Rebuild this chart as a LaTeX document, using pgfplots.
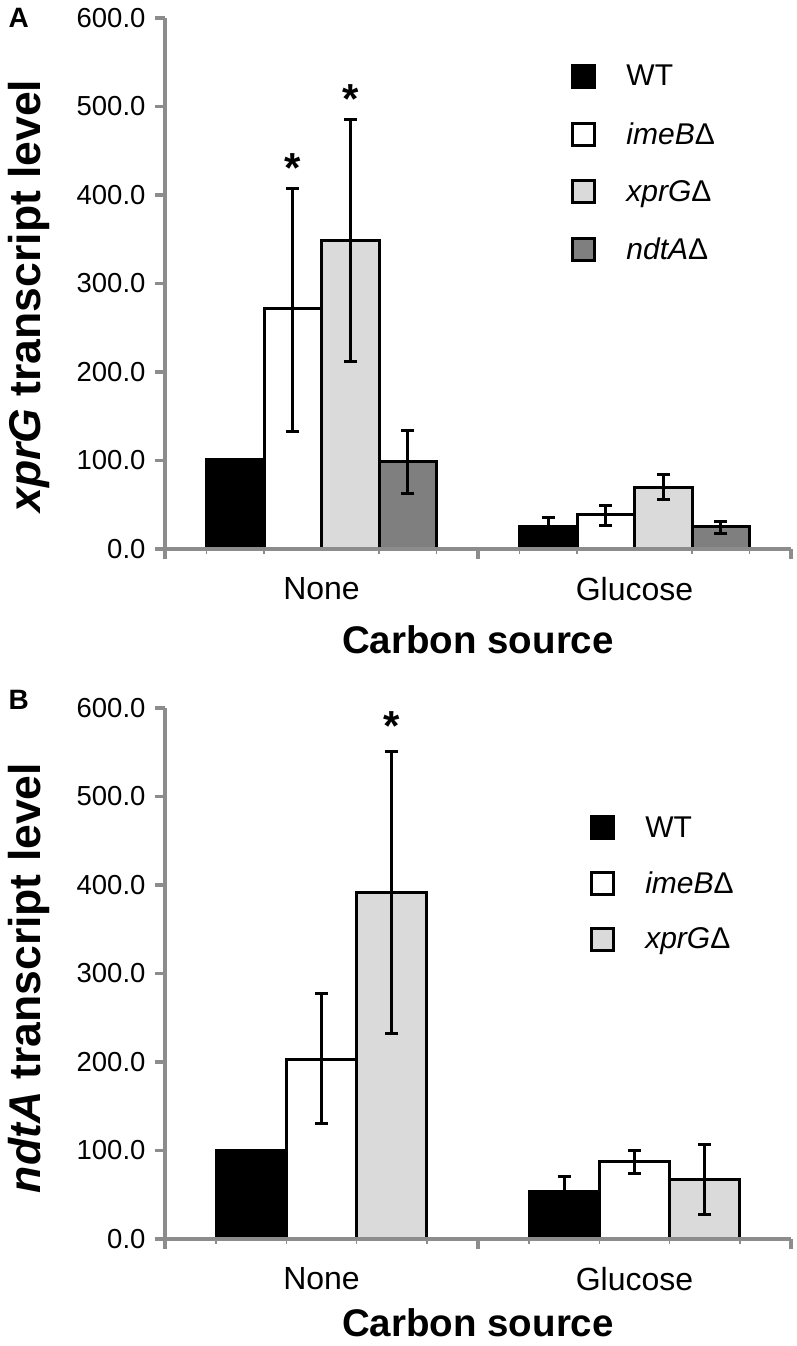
\documentclass[border=0pt]{standalone}
\usepackage{fontspec}
\setmainfont{Liberation Sans}
\usepackage{pgfplots}
\pgfplotsset{compat=1.18}
\usepackage{pgfplotstable}

\definecolor{axgray}{HTML}{8C8C8C}
\definecolor{lgray}{HTML}{DADADA}
\definecolor{dgray}{HTML}{7F7F7F}

% Panel A data: x y ep em
\pgfplotstableread{
x y ep em
1 101 0 0
2 25.5 10 10
}\AWT
\pgfplotstableread{
x y ep em
1 272 135 139
2 38.8 10.8 12
}\AimeB
\pgfplotstableread{
x y ep em
1 349 136 137
2 70 14 14
}\AxprG
\pgfplotstableread{
x y ep em
1 98.5 35.5 36
2 25 6 8
}\AndtA
% Panel B data
\pgfplotstableread{
x y ep em
1 100 0 0
2 53.5 17.3 17.3
}\BWT
\pgfplotstableread{
x y ep em
1 203 74 73
2 87.5 12 14
}\BimeB
\pgfplotstableread{
x y ep em
1 391 160 159
2 67.5 39 39.5
}\BxprG

\pgfplotsset{
  panel/.style={
    scale only axis,
    width=626pt, height=531pt,
    xmin=0.5, xmax=2.5, ymin=0, ymax=600,
    axis x line*=bottom, axis y line*=left,
    axis line style={axgray, line width=3.2pt},
    tick style={axgray, line width=3.2pt},
    tick align=outside,
    major tick length=10pt,
    minor tick length=5pt,
    minor tick style={axgray, line width=1.5pt},
    ytick={0,100,...,600},
    yticklabel style={font=\fontsize{27.5}{32}\selectfont, xshift=-6pt,
      /pgf/number format/.cd, fixed, fixed zerofill, precision=1, assume math mode=true},
    xtick={0.5,1.5,2.5}, xticklabels={},
    extra x ticks={1,2},
    extra x tick labels={None,Glucose},
    extra x tick style={major tick length=0pt, xticklabel style={font=\fontsize{32}{38}\selectfont, yshift=-25pt}},
    axis on top,
    clip=false,
    ybar=0pt,
    error bars/y dir=both,
    error bars/y explicit,
    error bars/error mark=-,
    error bars/error bar style={line width=3pt, black},
    error bars/error mark options={rotate=90, line width=3pt, black, mark size=6.5pt},
    legend image code/.code={\draw[#1, line width=3pt] (0pt,-11pt) rectangle (22pt,11pt);},
    legend cell align=left,
  },
  barst/.style={draw=black, line width=3pt},
}

\begin{document}
\begin{tikzpicture}
\path[use as bounding box] (-165pt,549pt) rectangle (632pt,-797pt);

% ---------------- Panel A
\begin{axis}[panel, at={(0pt,0pt)}, anchor=south west,
  bar width=57.5pt,
  minor xtick={0.632,0.816,1.184,1.368,1.632,1.816,2.184,2.368},
  legend style={draw=none, fill=none, inner sep=0pt,
    at={(axis description cs:0.649,0.915)}, anchor=north west,
    font=\fontsize{30}{36}\selectfont, row sep=31pt,
    /tikz/every odd column/.append style={column sep=28pt}},
]
\addplot[barst, fill=black] table[x=x, y=y, y error plus=ep, y error minus=em] {\AWT};
\addplot[barst, fill=white] table[x=x, y=y, y error plus=ep, y error minus=em] {\AimeB};
\addplot[barst, fill=lgray] table[x=x, y=y, y error plus=ep, y error minus=em] {\AxprG};
\addplot[barst, fill=dgray] table[x=x, y=y, y error plus=ep, y error minus=em] {\AndtA};
\legend{WT, \textit{imeB}Δ, \textit{xprG}Δ, \textit{ndtA}Δ}
\node[font=\fontsize{42}{42}\selectfont\bfseries] at (axis cs:0.908,430) {*};
\node[font=\fontsize{42}{42}\selectfont\bfseries] at (axis cs:1.092,508) {*};
\end{axis}
\node[font=\fontsize{44.5}{52}\selectfont\bfseries, rotate=90] at (-136pt,253pt) {\textit{xprG} transcript level};
\node[font=\fontsize{38.5}{46}\selectfont\bfseries] at (313pt,-91pt) {Carbon source};
\node[font=\fontsize{28}{34}\selectfont\bfseries, anchor=west] at (-160pt,531pt) {A};

% ---------------- Panel B
\begin{axis}[panel, at={(0pt,-690pt)}, anchor=south west,
  bar width=70.3pt,
  minor xtick={0.663,0.888,1.112,1.337,1.663,1.888,2.112,2.337},
  legend style={draw=none, fill=none, inner sep=0pt,
    at={(axis description cs:0.679,0.80)}, anchor=north west,
    font=\fontsize{30}{36}\selectfont, row sep=29pt,
    /tikz/every odd column/.append style={column sep=28pt}},
]
\addplot[barst, fill=black] table[x=x, y=y, y error plus=ep, y error minus=em] {\BWT};
\addplot[barst, fill=white] table[x=x, y=y, y error plus=ep, y error minus=em] {\BimeB};
\addplot[barst, fill=lgray] table[x=x, y=y, y error plus=ep, y error minus=em] {\BxprG};
\legend{WT, \textit{imeB}Δ, \textit{xprG}Δ}
\node[font=\fontsize{42}{42}\selectfont\bfseries] at (axis cs:1.2246,580) {*};
\end{axis}
\node[font=\fontsize{44.5}{52}\selectfont\bfseries, rotate=90] at (-136pt,-429pt) {\textit{ndtA} transcript level};
\node[font=\fontsize{38.5}{46}\selectfont\bfseries] at (313pt,-774pt) {Carbon source};
\node[font=\fontsize{28}{34}\selectfont\bfseries, anchor=west] at (-160pt,-151pt) {B};
\end{tikzpicture}
\end{document}
